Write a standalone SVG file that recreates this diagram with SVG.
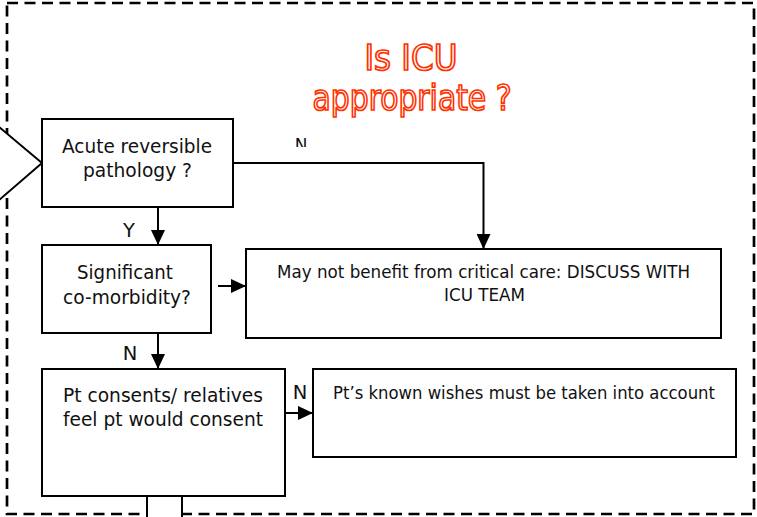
<svg xmlns="http://www.w3.org/2000/svg" width="757" height="517" viewBox="0 0 757 517">
<style>
.box{fill:#fff;stroke:#000;stroke-width:2}
.t{font-family:"DejaVu Sans","Liberation Sans",sans-serif;font-size:19.5px;fill:#111;text-anchor:middle}
.s{font-size:17.5px}
.c{fill:none;stroke:#000;stroke-width:2}
.title{font-family:"DejaVu Sans Condensed","DejaVu Sans",sans-serif;font-size:36px;fill:#fff;stroke:#ff3300;stroke-width:1.7;text-anchor:middle}
</style>
<defs>
<marker id="arr" viewBox="0 0 15 14" refX="15" refY="7" markerWidth="15" markerHeight="14" orient="auto" markerUnits="userSpaceOnUse">
<path d="M0,0 L15,7 L0,14 z" fill="#000"/>
</marker>
<clipPath id="clipN"><rect x="280" y="120" width="40" height="27"/></clipPath>
</defs>
<rect width="757" height="517" fill="#fff"/>
<rect id="frame" x="7" y="3" width="747" height="511" fill="none" stroke="#000" stroke-width="2.7" stroke-dasharray="11 6.5"/>
<g id="title">
<text class="title" x="411" y="70" textLength="93" lengthAdjust="spacingAndGlyphs">Is ICU</text>
<text class="title" x="412" y="110" textLength="199" lengthAdjust="spacingAndGlyphs">appropriate ?</text>
</g>
<g id="entry"><polygon points="-2,126 42,163 -2,201" fill="#fff" stroke="#000" stroke-width="2"/></g>
<g id="connectors">
<path class="c" d="M233,163 H483.5 V249" marker-end="url(#arr)"/>
<path class="c" d="M158,207 V245" marker-end="url(#arr)"/>
<path class="c" d="M158,333 V369" marker-end="url(#arr)"/>
<path class="c" d="M218,286 H246" marker-end="url(#arr)"/>
<path class="c" d="M274,413 H313" marker-end="url(#arr)"/>
<text class="t" x="301" y="150.5" clip-path="url(#clipN)" style="font-size:17px">N</text>
<text class="t" x="129" y="237">Y</text>
<text class="t" x="130" y="360">N</text>
<text class="t" x="300" y="399">N</text>
</g>
<g id="n1">
<rect class="box" x="42" y="119" width="191" height="88"/>
<text class="t" x="137" y="152.5" textLength="150" lengthAdjust="spacingAndGlyphs">Acute reversible</text>
<text class="t" x="137.5" y="176.5" textLength="109" lengthAdjust="spacingAndGlyphs">pathology ?</text>
</g>
<g id="n2">
<rect class="box" x="42" y="245" width="169" height="88"/>
<text class="t" x="125" y="278.5" textLength="96" lengthAdjust="spacingAndGlyphs">Significant</text>
<text class="t" x="127" y="304" textLength="128" lengthAdjust="spacingAndGlyphs">co-morbidity?</text>
</g>
<g id="n3">
<rect class="box" x="42" y="369" width="243" height="127"/>
<text class="t" x="163" y="402" textLength="200" lengthAdjust="spacingAndGlyphs">Pt consents/ relatives</text>
<text class="t" x="163" y="426" textLength="200" lengthAdjust="spacingAndGlyphs">feel pt would consent</text>
</g>
<g id="n3stub">
<rect class="box" x="147" y="496" width="35" height="30"/>
</g>
<g id="n4">
<rect class="box" x="313" y="369" width="423" height="88"/>
<text class="t s" x="524" y="398.5" textLength="382" lengthAdjust="spacingAndGlyphs">Pt’s known wishes must be taken into account</text>
</g>
<g id="n5">
<rect class="box" x="246" y="249" width="475" height="89"/>
<text class="t s" x="483.5" y="278" textLength="413" lengthAdjust="spacingAndGlyphs">May not benefit from critical care: DISCUSS WITH</text>
<text class="t s" x="484.5" y="301" textLength="81" lengthAdjust="spacingAndGlyphs">ICU TEAM</text>
</g>
</svg>
